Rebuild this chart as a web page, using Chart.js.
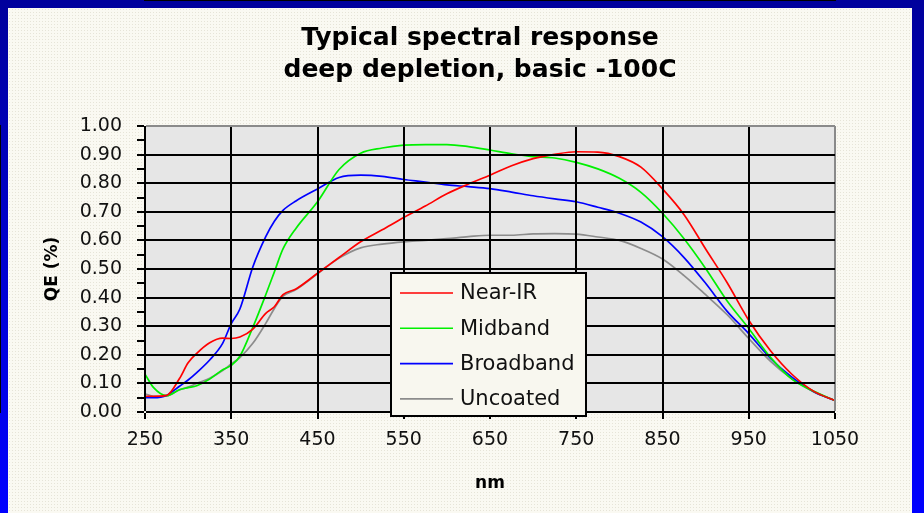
<!DOCTYPE html>
<html>
<head>
<meta charset="utf-8">
<script src="https://cdn.jsdelivr.net/npm/chart.js@4.4.1/dist/chart.umd.min.js"></script>
<style>
  html, body { margin: 0; padding: 0; }
  body { width: 924px; height: 513px; overflow: hidden; position: relative;
         background: linear-gradient(180deg, #00009c 0%, #0000d8 60%, #0000ff 100%); }
  #panel { position: absolute; left: 8px; top: 8px; width: 904px; height: 505px;
           background: radial-gradient(circle, #e6e4d8 0.7px, rgba(0,0,0,0) 1px) 0 0 / 3px 3px, #faf9f2; }
  #c { position: absolute; left: 0; top: 0; }
</style>
</head>
<body>
<div id="panel"></div>
<canvas id="c" width="924" height="513"></canvas>
<script>
// ---- data ----
const nm = [250,260,275,290,300,310,325,340,350,360,375,390,400,410,425,450,475,500,525,550,575,600,625,650,675,700,725,750,775,800,825,850,875,900,925,950,975,1000,1025,1050];
const nearIR = [0.055,0.055,0.058,0.117,0.172,0.205,0.242,0.258,0.257,0.262,0.29,0.345,0.368,0.41,0.43,0.485,0.54,0.595,0.637,0.68,0.72,0.763,0.797,0.828,0.861,0.886,0.901,0.91,0.909,0.893,0.856,0.78,0.69,0.57,0.452,0.321,0.215,0.132,0.073,0.04];
const midband = [0.132,0.085,0.057,0.078,0.085,0.092,0.115,0.148,0.163,0.195,0.296,0.41,0.49,0.57,0.642,0.735,0.848,0.905,0.923,0.933,0.935,0.935,0.928,0.916,0.903,0.893,0.888,0.873,0.85,0.817,0.768,0.695,0.606,0.502,0.388,0.292,0.192,0.115,0.073,0.04];
const broadband = [0.05,0.05,0.058,0.09,0.112,0.138,0.182,0.24,0.309,0.36,0.507,0.613,0.667,0.705,0.738,0.78,0.82,0.828,0.824,0.813,0.804,0.794,0.788,0.781,0.769,0.756,0.745,0.735,0.716,0.695,0.664,0.613,0.54,0.45,0.352,0.274,0.188,0.122,0.072,0.04];
const uncoated = [0.064,0.055,0.056,0.078,0.087,0.1,0.118,0.145,0.168,0.19,0.24,0.31,0.362,0.405,0.428,0.483,0.538,0.574,0.587,0.595,0.6,0.606,0.613,0.618,0.618,0.623,0.624,0.622,0.612,0.6,0.572,0.535,0.477,0.41,0.34,0.257,0.178,0.116,0.071,0.04];
const seriesNames = ['Near-IR','Midband','Broadband','Uncoated'];
const xTicks = [250,350,450,550,650,750,850,950,1050];
const yTicks = [0,0.05,0.10,0.15,0.20,0.25,0.30,0.35,0.40,0.45,0.50,0.55,0.60,0.65,0.70,0.75,0.80,0.85,0.90,0.95,1.00];
const titleLines = ['Typical spectral response','deep depletion, basic -100C'];
const xTitle = 'nm';
const yTitle = 'QE (%)';

const FONT = '"DejaVu Sans", "Liberation Sans", Arial, sans-serif';
const colors = ['#ff0000','#00f000','#0000ff','#8c8c8c'];
const allSeries = [nearIR, midband, broadband, uncoated];

const isMajor = v => Math.round(v * 100) % 10 === 0;

const plotBg = {
  id: 'plotBg',
  beforeDraw(chart) {
    const {ctx, chartArea: a} = chart;
    ctx.save();
    ctx.fillStyle = '#e6e6e6';
    ctx.fillRect(a.left, a.top, a.right - a.left, a.bottom - a.top);
    ctx.restore();
  }
};

const boxLegend = {
  id: 'boxLegend',
  afterDraw(chart) {
    const {ctx, chartArea: a} = chart;
    const bx = a.left + 246, by = a.top + 147, bw = 195, bh = 143;
    ctx.save();
    ctx.fillStyle = '#f8f7ef';
    ctx.fillRect(bx, by, bw, bh);
    ctx.strokeStyle = '#000';
    ctx.lineWidth = 2;
    ctx.strokeRect(bx, by, bw, bh);
    ctx.font = '21px ' + FONT;
    ctx.textBaseline = 'middle';
    ctx.textAlign = 'left';
    chart.data.datasets.forEach((ds, i) => {
      const y = by + 20 + i * 35.3;
      ctx.strokeStyle = ds.borderColor;
      ctx.lineWidth = 1.6;
      ctx.beginPath();
      ctx.moveTo(bx + 9, y);
      ctx.lineTo(bx + 62, y);
      ctx.stroke();
      ctx.fillStyle = '#111';
      ctx.fillText(ds.label, bx + 69, y + 1);
    });
    ctx.restore();
  }
};

new Chart(document.getElementById('c'), {
  type: 'line',
  data: {
    datasets: allSeries.map((vals, i) => ({
      label: seriesNames[i],
      data: nm.map((x, j) => ({x: x, y: vals[j]})),
      borderColor: colors[i],
      backgroundColor: colors[i],
      borderWidth: 1.7,
      pointRadius: 0,
      fill: false,
      cubicInterpolationMode: 'monotone'
    }))
  },
  options: {
    responsive: false,
    devicePixelRatio: 1,
    animation: false,
    layout: { padding: { left: 36, right: 0, top: 0, bottom: 0 } },
    plugins: {
      legend: { display: false },
      tooltip: { enabled: false },
      title: {
        display: true,
        text: titleLines,
        color: '#000',
        font: { family: FONT, size: 25, weight: 'bold', lineHeight: 1.264 },
        padding: { top: 23, bottom: 39.8 }
      }
    },
    scales: {
      x: {
        type: 'linear',
        min: 250, max: 1050,
        afterBuildTicks: s => { s.ticks = xTicks.map(v => ({value: v})); },
        afterFit: s => { s.height = 101; },
        grid: {
          z: 1,
          lineWidth: 2,
          color: c => (c.tick && c.tick.value === 1050) ? '#8a8a8a' : '#000',
          tickColor: '#000',
          tickLength: 7
        },
        border: { display: true, color: '#000', width: 2 },
        ticks: {
          color: '#111',
          font: { family: FONT, size: 19 },
          padding: 10,
          maxRotation: 0,
          autoSkip: false,
          callback: v => String(v)
        },
        title: {
          display: true,
          text: xTitle,
          color: '#000',
          font: { family: FONT, size: 17, weight: 'bold', lineHeight: 1.2 },
          padding: { top: 0, bottom: 19 }
        }
      },
      y: {
        type: 'linear',
        position: 'left',
        min: 0, max: 1,
        afterBuildTicks: s => { s.ticks = yTicks.map(v => ({value: v})); },
        afterFit: s => { s.width = 109; },
        grid: {
          z: 1,
          lineWidth: 2,
          color: c => {
            const v = c.tick ? c.tick.value : 0;
            if (!isMajor(v)) return 'rgba(0,0,0,0)';
            if (Math.abs(v - 1) < 1e-9) return '#8a8a8a';
            return '#000';
          },
          tickColor: '#000',
          tickLength: 8
        },
        border: { display: true, color: '#000', width: 2 },
        ticks: {
          color: '#111',
          font: { family: FONT, size: 19 },
          padding: 15,
          autoSkip: false,
          callback: v => isMajor(v) ? v.toFixed(2) : ''
        },
        title: {
          display: true,
          text: yTitle,
          color: '#000',
          font: { family: FONT, size: 17, weight: 'bold', lineHeight: 1.2 },
          padding: { top: 6, bottom: 0 }
        }
      },
      yRight: {
        type: 'linear',
        position: 'right',
        min: 0, max: 1,
        display: true,
        afterFit: s => { s.width = 89; },
        grid: { display: false, drawOnChartArea: false },
        border: { display: false },
        ticks: { display: false }
      }
    }
  },
  plugins: [plotBg, boxLegend]
});
</script>
</body>
</html>
